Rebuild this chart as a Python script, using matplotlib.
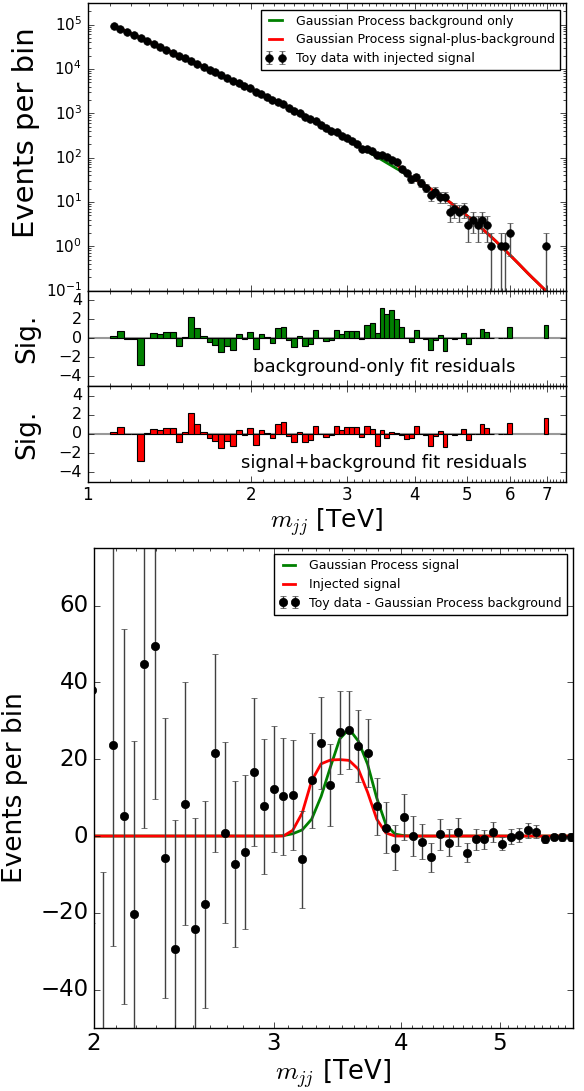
import numpy as np
import matplotlib
matplotlib.use('Agg')
import matplotlib.pyplot as plt
from matplotlib.ticker import FixedLocator, NullFormatter, LogLocator, LogFormatterMathtext

plt.style.use('classic')
plt.rcParams['mathtext.fontset'] = 'cm'
plt.rcParams['figure.facecolor'] = 'white'
plt.rcParams['savefig.facecolor'] = 'white'

# bin edges in TeV
edges = [1.100, 1.133, 1.166, 1.200, 1.234, 1.269, 1.305, 1.341, 1.378, 1.416, 1.454, 1.493,
         1.533, 1.573, 1.614, 1.656, 1.698, 1.741, 1.785, 1.830, 1.875, 1.921, 1.968, 2.016,
         2.065, 2.114, 2.164, 2.215, 2.267, 2.320, 2.374, 2.429, 2.485, 2.542, 2.600, 2.659,
         2.719, 2.780, 2.842, 2.905, 2.969, 3.034, 3.100, 3.167, 3.235, 3.305, 3.376, 3.448,
         3.521, 3.596, 3.672, 3.749, 3.827, 3.907, 3.988, 4.070, 4.154, 4.239, 4.326, 4.414,
         4.504, 4.595, 4.688, 4.782, 4.878, 4.975, 5.074, 5.175, 5.277, 5.381, 5.487, 5.595,
         5.705, 5.817, 5.931, 6.047, 6.165, 6.285, 6.407, 6.531, 6.658, 6.787, 6.918, 7.052]

# toy data counts per bin
counts = [94477, 80379, 68217, 58328, 49264, 42674, 36581, 31404, 27023, 23266, 19831, 17244,
          15156, 12999, 11192, 9642, 8346, 7185, 6292, 5430, 4837, 4172, 3669, 3083,
          2753, 2376, 2036, 1823, 1592, 1328, 1122, 1003, 833, 723, 660, 551,
          466, 403, 368, 309, 271, 232, 202, 158, 155, 144, 116, 115,
          103, 88, 78, 56, 44, 33, 36, 27, 21, 14, 17, 13,
          13, 6, 7, 6, 7, 3, 4, 3, 4, 3, 1, 0,
          1, 1, 2, 0, 0, 0, 0, 0, 0, 0, 1]

# GP background-only fit
fit_bkg = [94400, 80170, 68230, 58340, 49890, 42660, 36480, 31330, 26920, 23170, 19950, 17220,
           14890, 12880, 11170, 9683, 8414, 7311, 6353, 5521, 4808, 4178, 3631, 3148,
           2729, 2371, 2056, 1778, 1542, 1334, 1151, 995, 857, 741, 638, 550,
           473, 407, 351, 301, 259, 222, 191, 164, 141, 120, 103, 88.1,
           75.5, 64.9, 55.8, 48.4, 41.6, 35.7, 30.8, 26.6, 22.9, 19.7, 16.8, 14.4,
           12.0, 9.93, 8.24, 6.81, 5.61, 4.60, 3.77, 3.05, 2.47, 2.00, 1.61, 1.29,
           1.02, 0.811, 0.640, 0.505, 0.398, 0.312, 0.245, 0.194, 0.155, 0.123, 0.098]

# GP signal-plus-background fit
fit_sb = [94400, 80170, 68230, 58340, 49890, 42660, 36480, 31330, 26920, 23170, 19950, 17220,
          14890, 12880, 11170, 9683, 8414, 7311, 6353, 5521, 4808, 4178, 3631, 3148,
          2729, 2371, 2056, 1778, 1542, 1334, 1151, 995, 857, 741, 638, 550,
          473, 407, 351, 301, 259, 222, 191, 165, 145, 129, 118, 109,
          98.5, 85, 70, 55, 43.6, 36, 30.8, 26.6, 22.9, 19.7, 16.8, 14.4,
          12.0, 9.93, 8.24, 6.81, 5.61, 4.60, 3.77, 3.05, 2.47, 2.00, 1.61, 1.29,
          1.02, 0.811, 0.640, 0.505, 0.398, 0.312, 0.245, 0.194, 0.155, 0.123, 0.098]

# significance of residuals
sig_bkg = [0.25, 0.74, -0.05, -0.05, -2.8, 0.07, 0.53, 0.42, 0.63, 0.63, -0.84, 0.18,
           2.18, 1.05, 0.21, -0.42, -0.74, -1.47, -0.77, -1.23, 0.42, -0.1, 0.63, -1.12,
           0.42, 0.1, -0.46, 1.05, 1.23, -0.18, -0.88, 0.25, -0.8, -0.63, 0.88, 0.05,
           -0.3, -0.15, 0.88, 0.42, 0.77, 0.77, 0.77, -0.05, 1.4, 1.58, 0.53, 3.16,
           2.5, 3.0, 2.0, 1.23, 0.05, -0.42, 0.88, 0.0, -0.1, -1.23, -0.18, 0.35,
           -1.33, 0.0, -0.1, 0.0, 0.53, -0.63, 0.0, 0.0, 1.0, 0.63, 0.0, 0.0,
           0.0, 0.0, 1.16, 0, 0, 0, 0, 0, 0, 0, 1.4]
sig_sb = [0.25, 0.74, -0.05, -0.05, -2.8, 0.07, 0.53, 0.42, 0.63, 0.63, -0.84, 0.18,
          2.18, 1.05, 0.21, -0.42, -0.74, -1.47, -0.77, -1.23, 0.42, -0.1, 0.63, -1.12,
          0.42, 0.1, -0.46, 1.05, 1.23, -0.18, -0.88, 0.25, -0.8, -0.63, 0.88, 0.05,
          -0.3, -0.15, 0.88, 0.42, 0.77, 0.74, 0.7, -0.32, 0.88, 0.56, -1.2, 0.46,
          -0.42, 0.2, 0.1, -0.07, -0.5, -0.42, 0.88, 0.0, -0.1, -1.23, -0.18, 0.35,
          -1.33, 0.0, -0.1, 0.0, 0.53, -0.63, 0.0, 0.0, 1.0, 0.63, 0.0, 0.0,
          0.0, 0.0, 1.16, 0, 0, 0, 0, 0, 0, 0, 1.7]

# lower panel, bins 22..73: data minus GP background, GP signal, injected signal
first_low = 22
resid = [38, -65, 23.8, 5.1, -20.3, 44.7, 49.6, -5.7, -29.4, 8.4, -24.2, -17.8,
         21.6, 0.9, -7.2, -4.1, 16.7, 7.7, 12.3, 10.4, 10.7, -6.1, 14.5, 24.3,
         13.3, 27.0, 27.6, 23.5, 21.7, 7.7, 2.2, -3.0, 5.0, 0.0, -1.5, -5.5,
         0.4, -1.7, 1.1, -4.3, -0.9, -0.9, 1.1, -2.0, -0.2, 0.3, 1.5, 1.1,
         -0.7, -0.3, -0.2, -0.2]
gp_signal = [0, 0, 0, 0, 0, 0, 0, 0, 0, 0, 0, 0,
             0, 0, 0, 0, 0, 0, 0, 0.1, 0.6, 1.6, 4.4, 10.3,
             18.0, 25.3, 27.9, 24.7, 18.7, 9.9, 3.0, 0.5, 0.1, 0, 0, 0,
             0, 0, 0, 0, 0, 0, 0, 0, 0, 0, 0, 0,
             0, 0, 0, 0]
inj_signal = [0, 0, 0, 0, 0, 0, 0, 0, 0, 0, 0, 0,
              0, 0, 0, 0, 0, 0, 0, 0, 1.5, 6.0, 14.4, 18.8,
              19.8, 19.9, 19.7, 17.4, 11.4, 4.4, 0.8, 0, 0, 0, 0, 0,
              0, 0, 0, 0, 0, 0, 0, 0, 0, 0, 0, 0,
              0, 0, 0, 0]

edges = np.array(edges)
counts = np.array(counts, dtype=float)
centers = 0.5 * (edges[:-1] + edges[1:])
widths = np.diff(edges)
has = counts > 0

fig = plt.figure(figsize=(5.84, 10.91), dpi=100)

ax0 = fig.add_axes([0.150, 0.7337, 0.819, 0.2632])
ax1 = fig.add_axes([0.150, 0.6462, 0.819, 0.0875], sharex=ax0)
ax2 = fig.add_axes([0.150, 0.5582, 0.819, 0.0880], sharex=ax0)
ax3 = fig.add_axes([0.161, 0.0577, 0.820, 0.4400])

# --- top: spectrum
ax0.plot(centers, fit_bkg, color='g', lw=2, label='Gaussian Process background only')
ax0.plot(centers, fit_sb, color='r', lw=2, label='Gaussian Process signal-plus-background')
ax0.errorbar(centers[has], counts[has], yerr=np.sqrt(counts[has]), fmt='o', color='k',
             ms=5.5, ecolor='0.3', elinewidth=1, capsize=2, label='Toy data with injected signal')
ax0.set_xscale('log')
ax0.set_yscale('log')
ax0.set_xlim(1, 7.6)
ax0.set_ylim(0.1, 3e5)
ax0.set_ylabel('Events per bin', fontsize=21)
ax0.yaxis.set_label_coords(-0.10, 0.55)
ax0.yaxis.set_major_locator(LogLocator(base=10, numticks=10))
ax0.yaxis.set_major_formatter(LogFormatterMathtext())
ax0.tick_params(labelsize=11)
ax0.legend(loc='upper right', fontsize=9, numpoints=2, handlelength=1.6,
           borderaxespad=0.5, labelspacing=0.45)

# --- residual panels
for ax, sig, col, txt in [(ax1, sig_bkg, 'g', 'background-only fit residuals'),
                          (ax2, sig_sb, 'r', 'signal+background fit residuals')]:
    sig = np.array(sig)
    ax.axhline(0, color='0.6', lw=1.5, zorder=0)
    ax.bar(edges[:-1][has], sig[has], width=widths[has], align='edge',
           color=col, edgecolor='k', lw=0.8)
    ax.set_ylim(-5, 5)
    ax.set_yticks([-4, -2, 0, 2, 4])
    ax.set_ylabel('Sig.', fontsize=19)
    ax.yaxis.set_label_coords(-0.10, 0.5)
    ax.tick_params(labelsize=11.5)
    ax.text(0.62, 0.2, txt, transform=ax.transAxes, ha='center', va='center', fontsize=13)

for ax in (ax0, ax1):
    plt.setp(ax.get_xticklabels(), visible=False)
ax2.set_xticks([1, 2, 3, 4, 5, 6, 7])
ax2.set_xticklabels(['1', '2', '3', '4', '5', '6', '7'])
ax2.xaxis.set_minor_locator(FixedLocator(np.arange(1.0, 7.61, 0.1)))
ax2.xaxis.set_minor_formatter(NullFormatter())
ax2.tick_params(axis='x', labelsize=12, pad=3)
ax2.set_xlabel(r'$m_{jj}$ [TeV]', fontsize=18)
ax2.xaxis.set_label_coords(0.5, -0.25)

# --- bottom: signal extraction
low_c = centers[first_low:first_low + len(resid)]
low_n = counts[first_low:first_low + len(resid)]
ax3.plot(low_c, gp_signal, color='g', lw=2, label='Gaussian Process signal')
ax3.plot(low_c, inj_signal, color='r', lw=2, label='Injected signal')
ax3.errorbar(low_c, resid, yerr=np.sqrt(low_n), fmt='o', color='k', ms=6,
             ecolor='0.25', elinewidth=1, capsize=2,
             label='Toy data - Gaussian Process background')
ax3.set_xscale('log')
ax3.set_xlim(2.0, 5.9)
ax3.set_ylim(-50, 75)
ax3.set_xticks([2, 3, 4, 5])
ax3.set_xticklabels(['2', '3', '4', '5'])
ax3.xaxis.set_minor_locator(FixedLocator(np.arange(2.0, 5.91, 0.1)))
ax3.xaxis.set_minor_formatter(NullFormatter())
ax3.set_yticks([-40, -20, 0, 20, 40, 60])
ax3.tick_params(labelsize=16.5)
ax3.tick_params(axis='x', pad=3)
ax3.set_ylabel('Events per bin', fontsize=19)
ax3.yaxis.set_label_coords(-0.138, 0.5)
ax3.set_xlabel(r'$m_{jj}$ [TeV]', fontsize=18.5)
ax3.xaxis.set_label_coords(0.5, -0.06)
ax3.legend(loc='upper right', fontsize=9, numpoints=2, handlelength=1.6,
           borderaxespad=0.5, labelspacing=0.45)

fig.savefig('out.png', dpi=100)
